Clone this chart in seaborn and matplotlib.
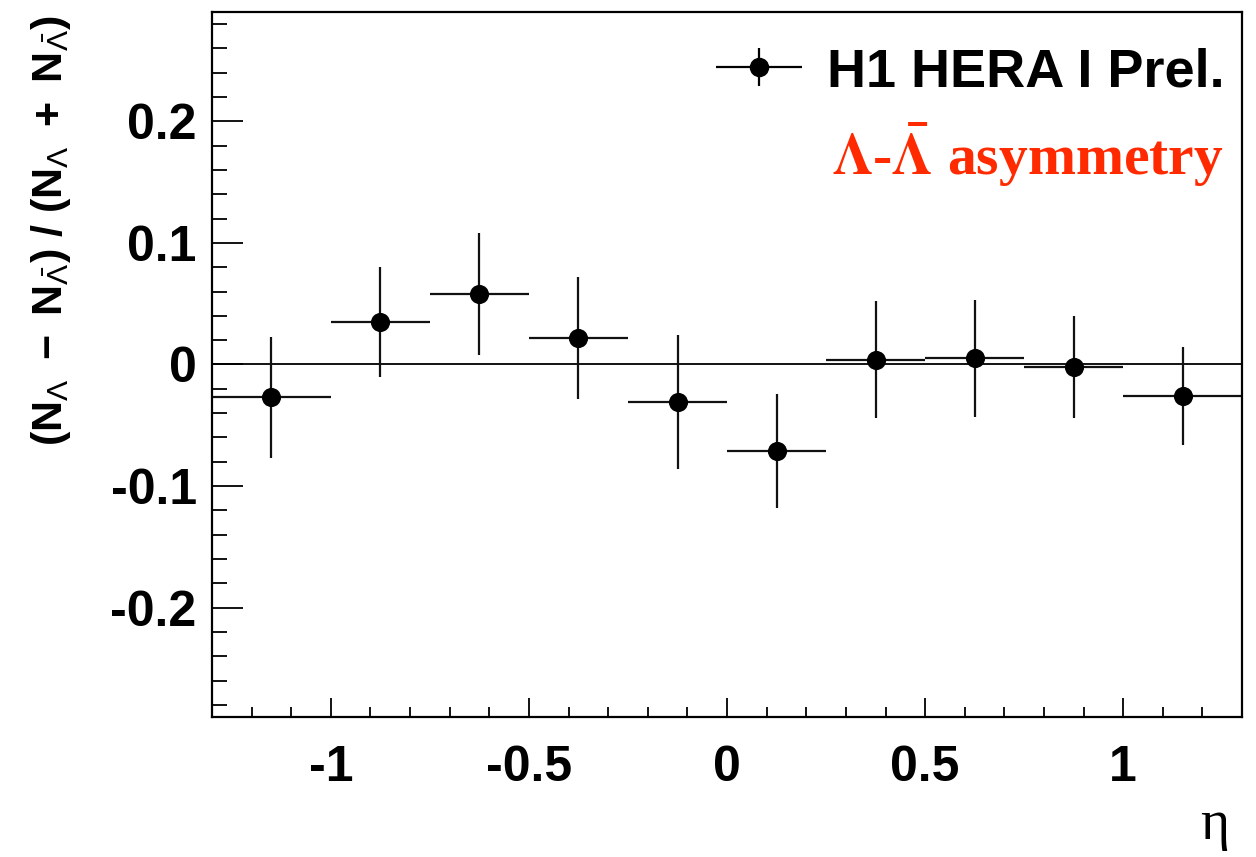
import numpy as np
import pandas as pd
import seaborn as sns
import matplotlib.pyplot as plt
from matplotlib.ticker import MultipleLocator
from matplotlib.legend_handler import HandlerErrorbar

# --- data ---
bin_edges = [-1.3, -1.0, -0.75, -0.5, -0.25, 0.0, 0.25, 0.5, 0.75, 1.0, 1.3]
asymmetry = [-0.027, 0.035, 0.058, 0.022, -0.031, -0.071, 0.004, 0.005, -0.002, -0.026]
asym_err = [0.050, 0.045, 0.050, 0.050, 0.055, 0.047, 0.048, 0.048, 0.042, 0.040]

edges = np.array(bin_edges)
df = pd.DataFrame({
    "eta": 0.5 * (edges[1:] + edges[:-1]),
    "half_width": 0.5 * (edges[1:] - edges[:-1]),
    "asym": asymmetry,
    "err": asym_err,
})

sns.set_theme(style="ticks")
plt.rcParams["font.family"] = ["Liberation Sans", "DejaVu Sans"]
plt.rcParams["text.color"] = "black"
plt.rcParams["axes.labelcolor"] = "black"
plt.rcParams["xtick.color"] = "black"
plt.rcParams["ytick.color"] = "black"
plt.rcParams["mathtext.fontset"] = "custom"
plt.rcParams["mathtext.rm"] = "Liberation Sans"
plt.rcParams["mathtext.bf"] = "Liberation Sans:bold"
plt.rcParams["mathtext.it"] = "Liberation Sans:italic"

fig = plt.figure(figsize=(12.56, 8.57), dpi=100)
ax = fig.add_axes([0.1688, 0.1634, 0.8201, 0.8226])

# zero line
ax.axhline(0, color="black", lw=1.3, zorder=1)

# error bars (bin width + stat error)
ax.errorbar(df["eta"], df["asym"], xerr=df["half_width"], yerr=df["err"],
            fmt="none", ecolor="#111111", elinewidth=1.6, capsize=0, zorder=2)
sns.scatterplot(data=df, x="eta", y="asym", ax=ax, color="black", s=190,
                edgecolor="black", linewidth=0, zorder=3, legend=False)

ax.set_xlim(-1.3, 1.3)
ax.set_ylim(-0.29, 0.29)

ax.xaxis.set_major_locator(MultipleLocator(0.5))
ax.xaxis.set_minor_locator(MultipleLocator(0.1))
ax.yaxis.set_major_locator(MultipleLocator(0.1))
ax.yaxis.set_minor_locator(MultipleLocator(0.02))
ax.set_xticks([-1, -0.5, 0, 0.5, 1])
ax.set_xticklabels(["-1", "-0.5", "0", "0.5", "1"])
ax.set_yticks([-0.2, -0.1, 0, 0.1, 0.2])
ax.set_yticklabels(["-0.2", "-0.1", "0", "0.1", "0.2"])

ax.tick_params(axis="x", which="major", direction="in", length=14, width=1.3,
               pad=20, labelsize=36)
ax.tick_params(axis="x", which="minor", direction="in", length=7, width=1.3)
ax.tick_params(axis="y", which="major", direction="in", length=22, width=1.3,
               pad=11, labelsize=36)
ax.tick_params(axis="y", which="minor", direction="in", length=11, width=1.3)
for lab in ax.get_xticklabels() + ax.get_yticklabels():
    lab.set_fontweight("bold")

for sp in ax.spines.values():
    sp.set_visible(True)
    sp.set_linewidth(1.6)
    sp.set_color("black")

ax.set_xlabel("")
ax.set_ylabel(r"$\mathbf{(N}_{\Lambda}\mathbf{\ -\ N}_{\bar{\Lambda}}\mathbf{)\ /\ (N}_{\Lambda}"
              r"\mathbf{\ +\ N}_{\bar{\Lambda}}\mathbf{)}$", fontsize=31)
ax.yaxis.set_label_coords(-0.135, 0.69)

# eta label at bottom right
fig.text(0.967, 0.037, "\u03b7", fontsize=40, family=["Liberation Serif"],
         ha="center", va="center")

# legend entry
h = ax.errorbar([], [], xerr=[0.1], yerr=[0.1], fmt="o", color="black",
                ms=13, elinewidth=1.6, capsize=0)
leg = ax.legend([h], ["H1 HERA I Prel."], loc="upper right", frameon=False,
                prop={"weight": "bold", "size": 39}, handlelength=1.7,
                handletextpad=0.4, borderaxespad=0, borderpad=0.1,
                bbox_to_anchor=(0.988, 0.958),
                handler_map={h: HandlerErrorbar(xerr_size=0.79, yerr_size=0.35)})

ax.text(0.982, 0.797, r"$\mathbf{\Lambda}$-$\mathbf{\bar{\Lambda}}$ asymmetry",
        transform=ax.transAxes, ha="right", va="center", color="#ff2a00",
        fontsize=41.5, fontweight="bold", family=["Liberation Serif"],
        math_fontfamily="stix")

fig.savefig("out.png", dpi=100)
